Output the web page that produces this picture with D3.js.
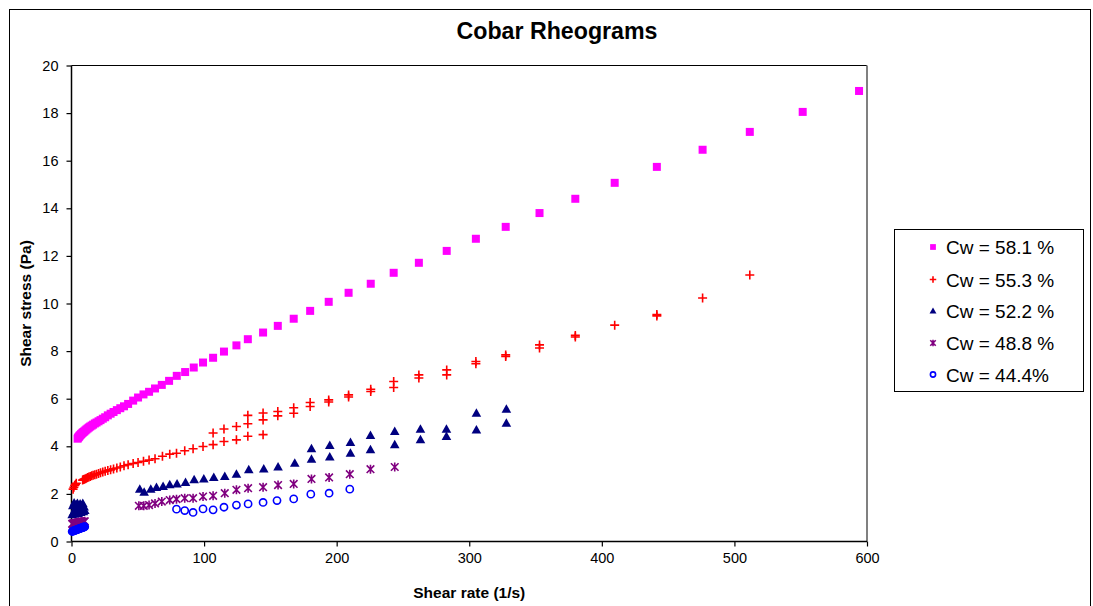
<!DOCTYPE html>
<html><head><meta charset="utf-8">
<script src="https://cdn.jsdelivr.net/npm/d3@7"></script>
<style>body{margin:0;background:#fff}svg{display:block;font-family:"Liberation Sans",Arial,sans-serif}</style>
</head><body><svg id="c" width="1093" height="606"></svg>
<script>
// ---------------- data ----------------
const title = "Cobar Rheograms";
const xLabel = "Shear rate (1/s)";
const yLabel = "Shear stress (Pa)";
const xTicks = [0,100,200,300,400,500,600];
const yTicks = [0,2,4,6,8,10,12,14,16,18,20];
const seriesNames = ["Cw = 58.1 %","Cw = 55.3 %","Cw = 52.2 %","Cw = 48.8 %","Cw = 44.4%"];

const x581 = [4.6,5.0,5.4,5.8,6.2,6.7,7.2,7.8,8.4,9.0,9.7,10.5,11.3,12.2,13.1,14.1,15.2,16.3,17.6,18.9,20.4,21.9,23.6,25.4,27.4,29.5,31.7,34.2,36.8,39.6,42.7,46.5,50.2,54.3,58.5,63,68.1,73.6,79.4,85.7,92.2,99.2,106.8,115,124.4,133,144.5,155.6,167.6,180,194,209,225.7,243,262,283,305,327.5,353,380,409.7,441.5,476,511.6,551.5,594];
const y581 = [4.32,4.36,4.39,4.42,4.45,4.48,4.51,4.54,4.57,4.6,4.63,4.67,4.71,4.75,4.79,4.83,4.87,4.91,4.96,5.0,5.05,5.1,5.16,5.22,5.3,5.37,5.44,5.52,5.6,5.68,5.78,5.92,6.05,6.18,6.29,6.43,6.58,6.75,6.96,7.12,7.31,7.52,7.72,7.98,8.24,8.5,8.78,9.06,9.36,9.69,10.07,10.45,10.83,11.29,11.71,12.21,12.72,13.22,13.8,14.4,15.07,15.74,16.46,17.21,18.05,18.93];

const x553 = [1.2,1.8,2.4,3.0,3.6,8.4,9.0,9.7,10.5,11.3,12.2,13.1,14.1,15.2,16.3,17.6,18.9,20.4,21.9,23.6,25.4,27.4,29.5,31.7,34.2,36.8,39.6,42.7,46.5,50.2,54.3,58.5,63,68.6,74.1,79.2,85.4,91.7,99.2,106.8,115,124.4,133,144.5,
  106.8,115,124.4,133,133,144.5,144.5,155.6,155.6,167.6,167.6,180,180,194,194,209,209,225.7,225.7,243,243,262,262,283,283,305,305,327.5,327.5,353,353,380,380,409.7,441.5,441.5,476,511.6];
const y553 = [2.2,2.28,2.35,2.4,2.45,2.58,2.6,2.62,2.64,2.66,2.69,2.71,2.73,2.76,2.78,2.8,2.83,2.86,2.89,2.92,2.95,2.98,3.01,3.05,3.09,3.13,3.18,3.23,3.28,3.32,3.37,3.42,3.48,3.58,3.67,3.71,3.81,3.9,3.99,4.07,4.2,4.27,4.42,4.49,
  4.56,4.73,4.83,4.95,5.3,5.11,5.4,5.28,5.46,5.39,5.62,5.67,5.84,5.86,5.95,6.07,6.16,6.3,6.4,6.47,6.72,6.87,7.0,7.0,7.21,7.47,7.56,7.77,7.84,8.13,8.26,8.59,8.66,9.09,9.48,9.54,10.23,11.2];

const x522 = [0.5,1,1.5,2,2.5,3,3.5,4,4.5,5,5.5,6,6.5,7,7.5,8,8.5,9,9.5,10,
  51.5,54.8,59.8,64.1,69.1,74.1,79.6,86,92.5,99.8,107.3,115.6,124.4,133.7,145,155.8,168.4,181,181,194.8,194.8,210.4,210.4,225.5,225.5,243.8,243.8,263.2,263.2,282.8,282.8,305.4,305.4,328,328];
const y522 = [1.12,1.5,1.22,1.62,1.15,1.4,1.55,1.25,1.6,1.18,1.45,1.3,1.58,1.22,1.5,1.35,1.6,1.25,1.45,1.3,
  2.2,2.07,2.2,2.27,2.31,2.38,2.42,2.48,2.59,2.63,2.69,2.73,2.83,3.01,3.05,3.13,3.29,3.46,3.9,3.55,4.03,3.71,4.16,3.85,4.45,4.06,4.62,4.27,4.72,4.41,4.72,4.69,5.39,4.97,5.56];

const x488 = [0.5,1,1.5,2,2.5,3,3.5,4,4.5,5,5.5,6,6.5,7,7.5,8,8.5,9,9.5,10,
  50.8,54.5,58.5,63,68.1,74.1,79.2,85.4,91.7,99.2,106.8,115.6,124.4,133.2,144.5,155.8,167.6,181,194.3,209.9,225.5,243.8];
const y488 = [0.74,0.75,0.76,0.76,0.77,0.77,0.78,0.78,0.79,0.79,0.8,0.8,0.81,0.81,0.82,0.82,0.83,0.83,0.84,0.85,
  1.5,1.5,1.53,1.6,1.68,1.74,1.78,1.82,1.82,1.89,1.92,2.03,2.17,2.24,2.28,2.37,2.42,2.63,2.69,2.83,3.04,3.13];

const x444 = [0.5,1,1.5,2,2.5,3,3.5,4,4.5,5,5.5,6,6.5,7,7.5,8,8.5,9,9.5,10,
  79.2,85.4,91.7,99.2,106.8,115,124.4,133.2,144.5,155,167.6,180.5,194.3,209.9];
const y444 = [0.42,0.44,0.45,0.46,0.47,0.48,0.49,0.5,0.51,0.52,0.53,0.54,0.55,0.56,0.57,0.58,0.59,0.6,0.61,0.62,
  1.36,1.3,1.22,1.37,1.33,1.44,1.53,1.58,1.64,1.72,1.79,1.99,2.03,2.2];

// ---------------- drawing ----------------
const svg = d3.select("#c");
const X0 = 71.5, X1 = 867, Y0 = 541.5, Y1 = 65.5;
const x = d3.scaleLinear().domain([0,600]).range([X0,X1]);
const y = d3.scaleLinear().domain([0,20]).range([Y0,Y1]);

svg.append("rect").attr("x",9.5).attr("y",9.5).attr("width",1081).attr("height",640)
  .attr("fill","none").attr("stroke","#000").attr("stroke-width",1);

svg.append("text").attr("x",557).attr("y",38.5).attr("text-anchor","middle")
  .attr("font-size",23.2).attr("font-weight","bold").text(title);

// plot area border
svg.append("line").attr("x1",X0).attr("x2",X1).attr("y1",Y1).attr("y2",Y1).attr("stroke","#000").attr("stroke-width",1.2);
svg.append("line").attr("x1",X1).attr("x2",X1).attr("y1",Y1).attr("y2",Y0).attr("stroke","#808080").attr("stroke-width",2);

const xAxis = svg.append("g").attr("transform",`translate(0,${Y0})`)
  .call(d3.axisBottom(x).tickValues(xTicks).tickSize(5).tickPadding(6).tickFormat(d3.format("d")));
const yAxis = svg.append("g").attr("transform",`translate(${X0},0)`)
  .call(d3.axisLeft(y).tickValues(yTicks).tickSize(5).tickPadding(8).tickFormat(d3.format("d")));
[xAxis,yAxis].forEach(g=>{
  g.select(".domain").attr("stroke","#000").attr("stroke-width",1.5);
  g.selectAll(".tick line").attr("stroke","#000").attr("stroke-width",1.2);
  g.selectAll(".tick text").attr("font-size",14.5).attr("fill","#000").attr("font-family","Liberation Sans, Arial, sans-serif");
});
xAxis.select(".domain").attr("d",`M${X0},0H${X1}`);
yAxis.select(".domain").attr("d",`M0,${Y0}V${Y1}`);

svg.append("text").attr("x",(X0+X1)/2).attr("y",598).attr("text-anchor","middle")
  .attr("font-size",15.5).attr("font-weight","bold").text(xLabel);
svg.append("text").attr("transform",`translate(31,${(Y0+Y1)/2}) rotate(-90)`).attr("text-anchor","middle")
  .attr("font-size",15.5).attr("font-weight","bold").text(yLabel);

// markers
const colors = ["#FF00FF","#FF0000","#000080","#800080","#0000FF"];
function marker(g, type, color, cx, cy, s){
  s = s || 1;
  if(type===0) g.append("rect").attr("x",cx-4*s).attr("y",cy-4*s).attr("width",8*s).attr("height",8*s).attr("fill",color);
  else if(type===1) g.append("path").attr("d",`M${cx-4.5*s},${cy}H${cx+4.5*s}M${cx},${cy-4.5*s}V${cy+4.5*s}`).attr("stroke",color).attr("stroke-width",1.6).attr("fill","none");
  else if(type===2) g.append("path").attr("d",`M${cx},${cy-5*s}L${cx+4.8*s},${cy+3.5*s}L${cx-4.8*s},${cy+3.5*s}Z`).attr("fill",color);
  else if(type===3) g.append("path").attr("d",`M${cx-3.8*s},${cy-3.8*s}L${cx+3.8*s},${cy+3.8*s}M${cx+3.8*s},${cy-3.8*s}L${cx-3.8*s},${cy+3.8*s}M${cx},${cy-4.5*s}V${cy+4.5*s}`).attr("stroke",color).attr("stroke-width",1.6).attr("fill","none");
  else g.append("circle").attr("cx",cx).attr("cy",cy).attr("r",3.6*s).attr("fill","none").attr("stroke",color).attr("stroke-width",1.6);
}
const allSeries = [[x581,y581],[x553,y553],[x522,y522],[x488,y488],[x444,y444]];
const plot = svg.append("g");
allSeries.forEach((s,i)=>{
  const g = plot.append("g");
  s[0].forEach((xv,j)=> marker(g,i,colors[i],x(xv),y(s[1][j])));
});

// legend
const lg = svg.append("g");
lg.append("rect").attr("x",894.5).attr("y",229.5).attr("width",189).attr("height",162)
  .attr("fill","#fff").attr("stroke","#000").attr("stroke-width",1);
const rowsY = [247,279.5,311,343,374.5];
seriesNames.forEach((n,i)=>{
  marker(lg,i,colors[i],933,rowsY[i],0.72);
  lg.append("text").attr("x",946).attr("y",rowsY[i]+7).attr("font-size",19).text(n);
});
</script></body></html>
